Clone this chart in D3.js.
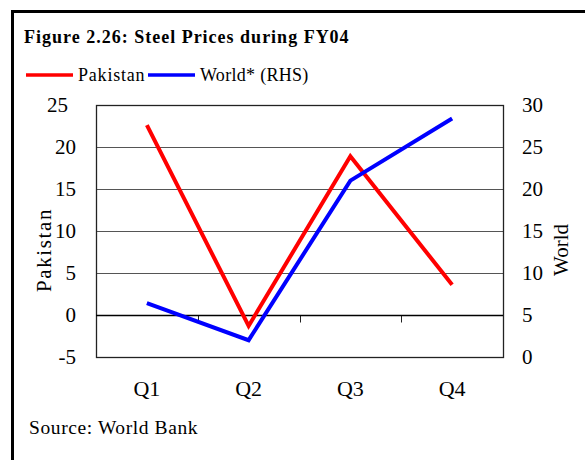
<!DOCTYPE html>
<html>
  <head>
    <meta charset="utf-8">
    <title>Figure 2.26</title>
    <script src="https://cdn.jsdelivr.net/npm/d3@7"></script>
    <style>
      html, body { margin: 0; background: white; overflow: hidden; }
      svg { display: block; }
      svg text { font-family: "Liberation Serif", "Times New Roman", serif; fill: black; }
    </style>
  </head>
  <body>
    <svg id="chart" width="585" height="460"></svg>
    <script>

    var quarters = ["Q1", "Q2", "Q3", "Q4"];
    var pakistan = [22.6, -1.3, 18.9, 3.6];
    var world = [6.4, 2.0, 21.0, 28.4];
    var leftTicks = [-5, 0, 5, 10, 15, 20, 25];
    var rightTicks = [0, 5, 10, 15, 20, 25, 30];

    var svg = d3.select("#chart");

    // outer frame: only the left and top edges fall inside the picture
    svg.append("path")
      .attr("d", "M12.5,460 L12.5,11.5 L585,11.5")
      .attr("fill", "none").attr("stroke", "black").attr("stroke-width", 3);

    svg.append("text")
      .attr("x", 24).attr("y", 43)
      .style("font-size", "18px").style("font-weight", "bold")
      .style("letter-spacing", "1px")
      .text("Figure 2.26: Steel Prices during FY04");

    var plotL = 96, plotR = 503, plotT = 105, plotB = 357;

    var x = d3.scaleBand().domain(quarters).range([plotL, plotR]);
    var y = d3.scaleLinear().domain([-5, 25]).range([plotB, plotT]);
    var y2 = d3.scaleLinear().domain([0, 30]).range([plotB, plotT]);

    // gridlines
    svg.append("g")
      .selectAll("line")
      .data(leftTicks.filter(function(d) { return d !== -5 && d !== 0 && d !== 25; }))
      .enter().append("line")
      .attr("x1", plotL).attr("x2", plotR)
      .attr("y1", function(d) { return Math.round(y(d)) + 0.5; })
      .attr("y2", function(d) { return Math.round(y(d)) + 0.5; })
      .attr("stroke", "#555").attr("stroke-width", 1);

    // plot border
    svg.append("rect")
      .attr("x", plotL + 0.5).attr("y", plotT + 0.5)
      .attr("width", plotR - plotL).attr("height", plotB - plotT)
      .attr("fill", "none").attr("stroke", "#222").attr("stroke-width", 1.3);

    // zero line with category separators
    var zy = Math.round(y(0)) + 0.5;
    var xg = svg.append("g").attr("transform", "translate(0," + zy + ")");
    xg.selectAll("line.sep")
      .data(quarters)
      .enter().append("line")
      .attr("class", "sep")
      .attr("x1", function(d) { return Math.round(x(d)) + 0.5; })
      .attr("x2", function(d) { return Math.round(x(d)) + 0.5; })
      .attr("y1", 0).attr("y2", 7)
      .attr("stroke", "#222");
    xg.append("line")
      .attr("x1", plotL).attr("x2", plotR)
      .attr("stroke", "black").attr("stroke-width", 1.3);

    // category labels
    svg.append("g").selectAll("text")
      .data(quarters)
      .enter().append("text")
      .attr("x", function(d) { return x(d) + x.bandwidth() / 2; })
      .attr("y", 396)
      .attr("text-anchor", "middle")
      .style("font-size", "22px")
      .text(function(d) { return d; });

    // value axes (labels only, plain hyphen for negatives)
    var plain = function(d) { return String(d); };
    var yAxis = d3.axisLeft(y).tickValues(leftTicks).tickSize(0).tickPadding(20).tickFormat(plain);
    var yg = svg.append("g").attr("transform", "translate(" + plotL + ",0)").call(yAxis);
    yg.select(".domain").remove();
    yg.selectAll("text")
      .attr("font-family", null)
      .attr("dx", function(d) { return d === 25 ? -8 : 0; })
      .style("font-size", "21px");

    var y2Axis = d3.axisRight(y2).tickValues(rightTicks).tickSize(0).tickPadding(19).tickFormat(plain);
    var y2g = svg.append("g").attr("transform", "translate(" + plotR + ",0)").call(y2Axis);
    y2g.select(".domain").remove();
    y2g.selectAll("text")
      .attr("font-family", null)
      .style("font-size", "21px");

    svg.append("text")
      .attr("transform", "translate(51,250) rotate(-90)")
      .attr("text-anchor", "middle")
      .style("font-size", "21px")
      .style("letter-spacing", "1.6px")
      .text("Pakistan");

    svg.append("text")
      .attr("transform", "translate(568,250) rotate(-90)")
      .attr("text-anchor", "middle")
      .style("font-size", "21px")
      .text("World");

    // series
    var cx = function(d, i) { return x(quarters[i]) + x.bandwidth() / 2; };
    var linePak = d3.line().x(cx).y(function(d) { return y(d); });
    var lineWorld = d3.line().x(cx).y(function(d) { return y2(d); });

    svg.append("path")
      .datum(pakistan)
      .attr("d", linePak)
      .attr("fill", "none").attr("stroke", "#ff0000").attr("stroke-width", 4);

    svg.append("path")
      .datum(world)
      .attr("d", lineWorld)
      .attr("fill", "none").attr("stroke", "#0000ff").attr("stroke-width", 4);

    // legend
    var legend = [
      { name: "Pakistan", color: "#ff0000", x: 26 },
      { name: "World* (RHS)", color: "#0000ff", x: 148 }
    ];
    var lg = svg.append("g").selectAll("g")
      .data(legend)
      .enter().append("g")
      .attr("transform", function(d) { return "translate(" + d.x + ",75)"; });
    lg.append("line")
      .attr("x1", 0).attr("x2", 47)
      .attr("stroke", function(d) { return d.color; })
      .attr("stroke-width", 3.5);
    lg.append("text")
      .attr("x", 52).attr("y", 6)
      .style("font-size", "18px")
      .style("letter-spacing", function(d) { return d.name === "Pakistan" ? "0.8px" : "0.3px"; })
      .text(function(d) { return d.name; });

    svg.append("text")
      .attr("x", 29).attr("y", 434)
      .style("font-size", "19.5px")
      .style("letter-spacing", "0.6px")
      .text("Source: World Bank");

    </script>
  </body>
</html>
